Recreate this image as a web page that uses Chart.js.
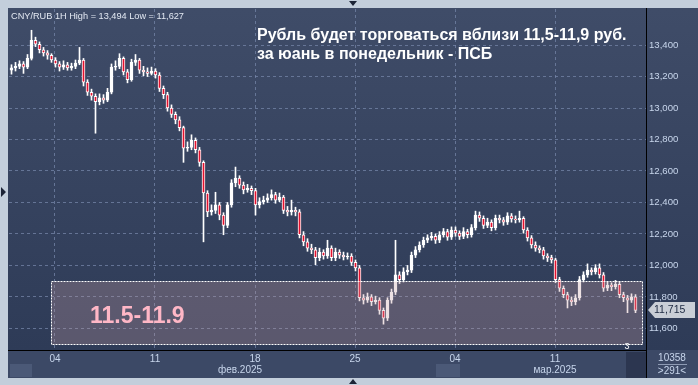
<!DOCTYPE html>
<html>
<head>
<meta charset="utf-8">
<script src="https://cdn.jsdelivr.net/npm/chart.js@4.4.1/dist/chart.umd.min.js"></script>
<style>
  html, body { margin: 0; padding: 0; background: #c3cedb; }
  #wrap { width: 698px; height: 385px; position: relative; }
</style>
</head>
<body>
<div id="wrap"><canvas id="chart" width="698" height="385"></canvas></div>
<script>
"use strict";

// hourly-ish CNY/RUB candles (2 trading hours per candle)
const firstOpen = 13240;
const closes = [
  13255, 13265, 13280, 13260, 13315, 13430, 13405, 13370, 13350, 13335,
  13305, 13280, 13260, 13275, 13255, 13265, 13285, 13305, 13165, 13100,
  13075, 13040, 13065, 13050, 13100, 13260, 13265, 13315, 13230, 13180,
  13290, 13305, 13240, 13230, 13220, 13235, 13210, 13125, 13085, 13000,
  12960, 12925, 12875, 12745, 12750, 12795, 12735, 12655, 12460, 12340,
  12350, 12385, 12320, 12255, 12385, 12525, 12555, 12510, 12480, 12490,
  12475, 12385, 12405, 12415, 12430, 12450, 12415, 12435, 12350, 12340,
  12350, 12340, 12195, 12150, 12110, 12100, 12050, 12085, 12060, 12110,
  12050, 12085, 12065, 12055, 12060, 12020, 11985, 11795, 11780, 11800,
  11770, 11780, 11715, 11665, 11780, 11830, 11940, 11910, 11960, 11970,
  12065, 12100, 12130, 12160, 12175, 12185, 12160, 12195, 12215, 12180,
  12225, 12205, 12185, 12215, 12195, 12240, 12320, 12300, 12255, 12275,
  12240, 12300, 12290, 12275, 12315, 12295, 12290, 12300, 12225, 12175,
  12130, 12110, 12100, 12060, 12050, 12035, 11910, 11855, 11815, 11780,
  11770, 11795, 11910, 11940, 11970, 11960, 11985, 11940, 11855, 11875,
  11865, 11880, 11815, 11795, 11780, 11800, 11715
];
const highs = [
  13275, 13290, 13300, 13295, 13340, 13494, 13450, 13420, 13385, 13365,
  13345, 13320, 13295, 13300, 13290, 13285, 13305, 13385, 13315, 13180,
  13120, 13090, 13090, 13085, 13125, 13280, 13300, 13345, 13325, 13245,
  13310, 13340, 13315, 13265, 13255, 13260, 13250, 13225, 13140, 13100,
  13020, 12975, 12945, 12885, 12785, 12830, 12810, 12750, 12665, 12475,
  12385, 12465, 12400, 12335, 12400, 12545, 12625, 12570, 12530, 12515,
  12505, 12490, 12430, 12440, 12455, 12480, 12465, 12460, 12445, 12375,
  12415, 12370, 12355, 12215, 12170, 12135, 12115, 12110, 12100, 12160,
  12125, 12110, 12100, 12085, 12080, 12075, 12035, 12000, 11815, 11825,
  11815, 11805, 11795, 11730, 11795, 11850, 12160, 11960, 11985, 12000,
  12085, 12120, 12150, 12180, 12195, 12210, 12200, 12215, 12235, 12230,
  12245, 12245, 12220, 12240, 12230, 12260, 12345, 12340, 12315, 12300,
  12290, 12320, 12320, 12305, 12335, 12330, 12315, 12345, 12310, 12240,
  12190, 12150, 12125, 12115, 12075, 12065, 12045, 11925, 11870, 11830,
  11800, 11815, 11930, 11960, 12010, 11985, 12005, 12010, 11955, 11895,
  11890, 11905, 11895, 11830, 11810, 11820, 11815
];
const lows = [
  13215, 13235, 13250, 13220, 13250, 13305, 13390, 13350, 13330, 13310,
  13290, 13260, 13235, 13245, 13240, 13240, 13250, 13275, 13140, 13080,
  13050, 12840, 13020, 13030, 13040, 13090, 13240, 13250, 13210, 13160,
  13170, 13270, 13220, 13205, 13200, 13210, 13190, 13105, 13060, 12980,
  12940, 12900, 12855, 12655, 12725, 12735, 12715, 12630, 12150, 12310,
  12320, 12330, 12290, 12195, 12240, 12370, 12500, 12490, 12455, 12465,
  12450, 12320, 12365, 12390, 12400, 12415, 12395, 12405, 12330, 12315,
  12320, 12315, 12175, 12125, 12090, 12075, 12005, 12030, 12040, 12045,
  12030, 12030, 12045, 12035, 12040, 12000, 11965, 11775, 11755, 11765,
  11745, 11755, 11690, 11627, 11650, 11760, 11815, 11885, 11895, 11940,
  11955, 12050, 12085, 12115, 12145, 12160, 12140, 12145, 12180, 12160,
  12165, 12185, 12165, 12170, 12175, 12180, 12225, 12280, 12235, 12240,
  12220, 12225, 12270, 12255, 12260, 12275, 12270, 12275, 12205, 12155,
  12110, 12090, 12080, 12040, 12025, 12015, 11890, 11835, 11795, 11730,
  11745, 11750, 11780, 11895, 11925, 11940, 11945, 11920, 11835, 11840,
  11840, 11850, 11795, 11770, 11700, 11765, 11700
];

// x axis in trading days counted from Tue 04 Feb
const dayTicks = [0, 5, 10, 15, 20, 25];
const dayLabels = ["04", "11", "18", "25", "04", "11"];
const monthLabels = ["фев.2025", "мар.2025"];
const monthPos = [9.25, 25];
const priceTicks = [11600, 11800, 12000, 12200, 12400, 12600, 12800, 13000, 13200, 13400];
const zoneLow = 11500;
const zoneHigh = 11900;
const zoneStart = -0.2;
const lastPrice = 11715;
const titleLines = ["Рубль будет торговаться вблизи 11,5-11,9 руб.", "за юань в понедельник - ПСБ"];
const infoLabel = "CNY/RUB 1H High = 13,494 Low = 11,627";

const bodies = [];
const wicks = [];
const bodyColors = [];
let prev = firstOpen;
closes.forEach((c, i) => {
  const t = -2.175 + 0.2 * i;
  bodies.push({ x: t, y: [prev, c] });
  wicks.push({ x: t, y: [lows[i], highs[i]] });
  bodyColors.push(c >= prev ? "#ffffff" : "#e3122f");
  prev = c;
});

const fmt = v => v.toLocaleString("en-US");
const axisText = "#c8d6ec";

const panelPlugin = {
  id: "panel",
  beforeDraw(chart) {
    const ctx = chart.ctx;
    const a = chart.chartArea;
    ctx.save();
    ctx.fillStyle = "#c3cedb";
    ctx.fillRect(0, 0, 698, 385);
    let g = ctx.createLinearGradient(0, a.top, 0, a.bottom);
    g.addColorStop(0, "#3f4c68");
    g.addColorStop(1, "#2e3b57");
    ctx.fillStyle = g;
    ctx.fillRect(8, 8, 690, a.bottom - 8);
    ctx.fillStyle = "#3c4966";
    ctx.fillRect(8, a.bottom, 690, 378 - a.bottom);
    ctx.fillStyle = "#4b5977";
    ctx.fillRect(10, 364, 22, 13);
    ctx.fillRect(436, 364, 24, 13);
    ctx.fillStyle = "#2c3650";
    ctx.fillRect(626, 352, 20, 26);
    ctx.restore();
  },
  afterDatasetsDraw(chart) {
    const ctx = chart.ctx;
    const x = chart.scales.x;
    const y = chart.scales.y;
    const a = chart.chartArea;
    const x0 = Math.round(x.getPixelForValue(zoneStart)) + 0.5;
    const x1 = a.right - 3.5;
    const y0 = Math.round(y.getPixelForValue(zoneHigh)) + 0.5;
    const y1 = Math.round(y.getPixelForValue(zoneLow)) + 0.5;
    ctx.save();
    ctx.fillStyle = "rgba(197,155,161,0.3)";
    ctx.fillRect(x0, y0, x1 - x0, y1 - y0);
    ctx.strokeStyle = "#ffffff";
    ctx.lineWidth = 1;
    ctx.setLineDash([2, 1]);
    ctx.strokeRect(x0, y0, x1 - x0, y1 - y0);
    ctx.setLineDash([]);
    ctx.fillStyle = "#ffb7c6";
    ctx.font = "bold 23px 'Liberation Sans', Arial, sans-serif";
    ctx.textBaseline = "alphabetic";
    ctx.fillText("11.5-11.9", 90, 323);
    ctx.restore();
  },
  afterDraw(chart) {
    const ctx = chart.ctx;
    const a = chart.chartArea;
    const x = chart.scales.x;
    const y = chart.scales.y;
    ctx.save();
    // separators
    ctx.strokeStyle = "#000000";
    ctx.lineWidth = 1;
    ctx.beginPath();
    ctx.moveTo(a.right + 0.5, 8);
    ctx.lineTo(a.right + 0.5, 378);
    ctx.moveTo(8, a.bottom + 0.5);
    ctx.lineTo(a.right, a.bottom + 0.5);
    ctx.stroke();

    // title
    ctx.fillStyle = "#ffffff";
    ctx.font = "bold 16px 'Liberation Sans', Arial, sans-serif";
    ctx.textBaseline = "alphabetic";
    ctx.fillText(titleLines[0], 257, 39.5);
    ctx.fillText(titleLines[1], 257, 58.5);

    ctx.fillStyle = "#e2e8f2";
    ctx.font = "9.2px 'Liberation Sans', Arial, sans-serif";
    ctx.fillText(infoLabel, 11, 18.5);

    // month row
    ctx.fillStyle = axisText;
    ctx.font = "10px 'Liberation Sans', Arial, sans-serif";
    ctx.textAlign = "center";
    monthLabels.forEach((m, i) => {
      ctx.fillText(m, x.getPixelForValue(monthPos[i]), 373);
    });

    ctx.fillStyle = "#ffffff";
    ctx.font = "9px 'Liberation Sans', Arial, sans-serif";
    ctx.fillText("3", 627, 349);

    // last price marker
    const py = Math.round(y.getPixelForValue(lastPrice));
    ctx.fillStyle = "#c9ced6";
    ctx.beginPath();
    ctx.moveTo(648, py);
    ctx.lineTo(655, py - 8);
    ctx.lineTo(695, py - 8);
    ctx.lineTo(695, py + 8);
    ctx.lineTo(655, py + 8);
    ctx.closePath();
    ctx.fill();
    ctx.fillStyle = "#1c2840";
    ctx.font = "10.5px 'Liberation Sans', Arial, sans-serif";
    ctx.textAlign = "left";
    ctx.textBaseline = "middle";
    ctx.fillText(fmt(lastPrice), 654, py + 0.5);

    // bar counter
    ctx.fillStyle = axisText;
    ctx.font = "10px 'Liberation Sans', Arial, sans-serif";
    ctx.textAlign = "center";
    ctx.fillText("10358", 672, 358);
    ctx.fillText(">291<", 672, 371);
    ctx.strokeStyle = "#8e9bb4";
    ctx.beginPath();
    ctx.moveTo(658, 364.5);
    ctx.lineTo(687, 364.5);
    ctx.stroke();

    // little frame arrows
    ctx.fillStyle = "#1c2436";
    ctx.beginPath();
    ctx.moveTo(349, 1); ctx.lineTo(357, 1); ctx.lineTo(353, 6); ctx.closePath();
    ctx.moveTo(1, 187); ctx.lineTo(1, 197); ctx.lineTo(6, 192); ctx.closePath();
    ctx.moveTo(349, 384); ctx.lineTo(357, 384); ctx.lineTo(353, 379); ctx.closePath();
    ctx.fill();
    ctx.restore();
  }
};

const ctx = document.getElementById("chart").getContext("2d");
const chart = new Chart(ctx, {
  type: "bar",
  data: {
    datasets: [
      {
        label: "wicks",
        data: wicks,
        backgroundColor: "#ffffff",
        barThickness: 1,
        grouped: false,
        order: 2
      },
      {
        label: "bodies",
        data: bodies,
        backgroundColor: bodyColors,
        borderColor: "#ffffff",
        borderWidth: 1,
        borderSkipped: false,
        barThickness: 3,
        grouped: false,
        order: 1
      }
    ]
  },
  options: {
    responsive: false,
    animation: false,
    layout: { padding: { left: 9, top: 9, right: 0, bottom: 7 } },
    plugins: {
      legend: { display: false },
      tooltip: { enabled: false }
    },
    scales: {
      x: {
        type: "linear",
        offset: false,
        min: -2.3,
        max: 29.55,
        afterBuildTicks: scale => {
          scale.ticks = dayTicks.map(v => ({ value: v }));
        },
        afterFit: scale => {
          scale.height = 28;
        },
        ticks: {
          autoSkip: false,
          maxRotation: 0,
          padding: 3,
          color: axisText,
          font: { family: "'Liberation Sans', Arial, sans-serif", size: 10 },
          callback: (v, i) => dayLabels[i]
        },
        grid: {
          offset: false,
          drawTicks: false,
          color: "rgba(118,134,168,0.75)"
        },
        border: { display: false, dash: [3, 3] }
      },
      y: {
        position: "right",
        min: 11463,
        max: 13629,
        afterBuildTicks: scale => {
          scale.ticks = priceTicks.map(v => ({ value: v }));
        },
        afterFit: scale => {
          scale.width = 52;
        },
        ticks: {
          padding: 3,
          color: axisText,
          font: { family: "'Liberation Sans', Arial, sans-serif", size: 9.6 },
          callback: v => fmt(v)
        },
        grid: {
          drawTicks: false,
          color: "rgba(118,134,168,0.75)"
        },
        border: { display: false, dash: [3, 3] }
      }
    }
  },
  plugins: [panelPlugin]
});
</script>
</body>
</html>
